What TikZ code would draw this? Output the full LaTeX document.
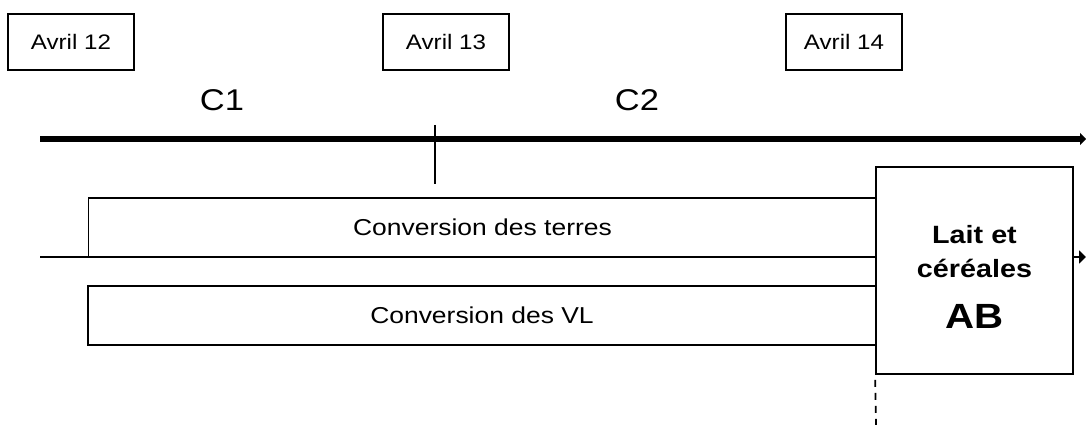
\documentclass[tikz,border=0pt]{standalone}
\usepackage{fontspec}
\setmainfont{Liberation Sans}[FakeStretch=1.15]
\usetikzlibrary{arrows.meta}

\begin{document}
\begin{tikzpicture}[
        x=1pt,
        y=-1pt,
        datebox/.style={draw, line width=1.5pt, minimum height=56pt, inner sep=0pt,
            font=\fontsize{21}{25}\selectfont},
        phaselabel/.style={inner sep=0pt, font=\fontsize{30}{36}\selectfont},
        convbox/.style={draw, line width=1.8pt, minimum width=788pt, minimum height=59pt,
            inner sep=0pt, font=\fontsize{23}{28}\selectfont},
        ]
        \useasboundingbox (0,0) rectangle (1086,425);

        \node[datebox, minimum width=126pt] (avril12) at (71,42)  {Avril 12};
        \node[datebox, minimum width=126pt] (avril13) at (446,42) {Avril 13};
        \node[datebox, minimum width=116pt] (avril14) at (844,42) {Avril 14};

        \node[phaselabel] (c1) at (222,100) {C1};
        \node[phaselabel] (c2) at (637,100) {C2};

        \coordinate (tlstart)  at (40,139);
        \coordinate (tlend)    at (1086,139);
        \coordinate (ticktop)  at (435,125);
        \coordinate (tickbot)  at (435,184);
        \draw[line width=6pt, -{Triangle[length=6pt, width=12pt]}] (tlstart) -- (tlend);
        \path[draw=black, line width=1.8pt]
                            (ticktop) edge (tickbot);

        \node[convbox] (terres) at (482.5,227.5) {Conversion des terres};
        \node[convbox] (vl)     at (482,315.5)   {Conversion des VL};

        \coordinate (flowstart) at (40,257);
        \coordinate (flowend)   at (1086,257);
        \draw[line width=1.8pt, -{Triangle[length=7pt, width=13pt]}] (flowstart) -- (flowend);

        \node[draw, fill=white, line width=1.8pt, minimum width=197pt, minimum height=207pt,
            inner sep=0pt] (lait) at (974.5,270.5) {};
        \node[align=center, inner sep=0pt, font=\bfseries\fontsize{25}{34}\selectfont]
            (laittext) at ([yshift=-6pt]lait.center)
            {Lait et\\c\'er\'eales\\[17pt]{\fontsize{35}{35}\selectfont AB}};

        \coordinate (dashend) at (876,425);
        \path[draw=black, line width=1.8pt, dash pattern=on 7pt off 6pt, dash phase=8pt]
                            (lait.south west) edge (dashend);
\end{tikzpicture}
\end{document}
